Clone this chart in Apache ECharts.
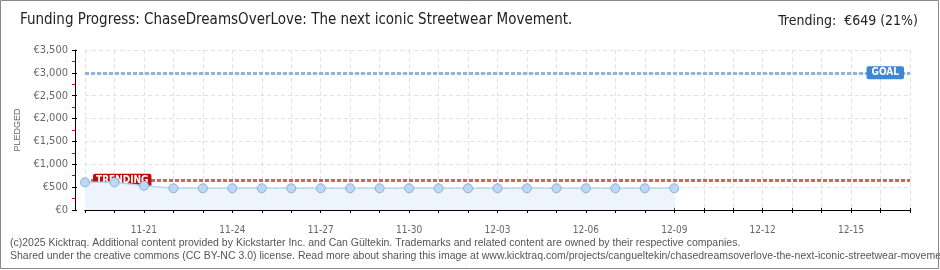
<!DOCTYPE html>
<html><head><meta charset="utf-8">
<script src="https://cdn.jsdelivr.net/npm/echarts@6/dist/echarts.min.js"></script>
<style>html,body{margin:0;padding:0;background:#fff}#c{width:940px;height:270px}</style>
</head><body><div id="c"></div>
<script>
var days = ['11-19','11-20','11-21','11-22','11-23','11-24','11-25','11-26','11-27','11-28','11-29','11-30','12-01','12-02','12-03','12-04','12-05','12-06','12-07','12-08','12-09','12-10','12-11','12-12','12-13','12-14','12-15','12-16','12-17'];
var pledged = [605,605,530,475,475,475,475,475,475,475,475,475,475,475,475,475,475,475,475,475,475];
var goal = 3000;
var trending = 649;
var yTicks = [0,500,1000,1500,2000,2500,3000,3500];
var titleText = 'Funding Progress: ChaseDreamsOverLove: The next iconic Streetwear Movement.';
var trendText = 'Trending:  \u20ac649 (21%)';
var foot1 = '(c)2025 Kicktraq. Additional content provided by Kickstarter Inc. and Can G\u00fcltekin. Trademarks and related content are owned by their respective companies.';
var foot2 = 'Shared under the creative commons (CC BY-NC 3.0) license. Read more about sharing this image at www.kicktraq.com/projects/cangueltekin/chasedreamsoverlove-the-next-iconic-streetwear-movement/';

var chart = echarts.init(document.getElementById('c'), null, {renderer:'canvas'});
var TF = '"DejaVu Sans Condensed","DejaVu Sans",sans-serif';
var FF = '"Liberation Sans",Arial,sans-serif';
function lbl(i){ return (i-2)%3===0; }
var catAxisBase = {
  type:'category', data:days, boundaryGap:false, offset:10,
  axisLine:{show:true,lineStyle:{color:'#000',width:1}}
};
chart.setOption({
  animation:false,
  grid:{left:85,right:30,top:50,bottom:60},
  graphic:[
    {type:'rect',shape:{x:0.5,y:0.5,width:938,height:268},style:{fill:'none',stroke:'#888',lineWidth:1},z:100},
    {type:'text',left:20,top:13,style:{text:titleText,font:'15px '+TF,fill:'#222'}},
    {type:'text',right:22,top:14,style:{text:trendText,font:'14px '+TF,fill:'#222'}},
    {type:'text',left:10,top:238,style:{text:foot1,font:'10.5px '+FF,fill:'#555'}},
    {type:'text',left:10,top:251,style:{text:foot2,font:'10.5px '+FF,fill:'#555'}}
  ],
  xAxis:[
    Object.assign({}, catAxisBase, {
      axisTick:{show:true,length:3,interval:0,lineStyle:{color:'#000'}},
      axisLabel:{interval:function(i){return lbl(i);},color:'#666',fontSize:10,fontFamily:TF,margin:5},
      splitLine:{show:true,interval:0,lineStyle:{color:'#e2e2e2',type:[4,3]}}
    }),
    Object.assign({}, catAxisBase, {
      position:'bottom',
      axisTick:{show:true,inside:true,length:2,interval:0,lineStyle:{color:'#000'}},
      axisLabel:{show:false}, splitLine:{show:false}
    })
  ],
  yAxis:[
    {
      type:'value', min:0, max:3500, interval:500, offset:10,
      name:'PLEDGED', nameLocation:'middle', nameGap:49,
      nameTextStyle:{color:'#666',fontSize:9,fontFamily:FF},
      axisLine:{show:true,lineStyle:{color:'#000'}},
      axisTick:{show:true,length:3,lineStyle:{color:'#000'}},
      minorTick:{show:true,splitNumber:2,length:3,lineStyle:{color:'#d00'}},
      axisLabel:{color:'#666',fontSize:11,fontFamily:TF,margin:7,
        formatter:function(v){return '\u20ac'+v.toLocaleString('en-US');}},
      splitLine:{show:true,lineStyle:{color:'#e2e2e2',type:[4,3]}}
    },
    {
      type:'value', min:0, max:3500, interval:500, offset:10, position:'left',
      axisLine:{show:false},
      axisTick:{show:true,inside:true,length:2,lineStyle:{color:'#000'}},
      axisLabel:{show:false}, splitLine:{show:false}
    }
  ],
  series:[{
    type:'line', data:pledged, symbol:'circle', symbolSize:9,
    itemStyle:{color:'#bdd8f6',borderColor:'#8fb0d8',borderWidth:1},
    lineStyle:{color:'#b9d6f3',width:1.5},
    areaStyle:{color:'#edf4fc',opacity:1},
    z:3,
    markLine:{
      silent:true, symbol:'none', z:2,
      data:[
        {yAxis:goal, lineStyle:{color:'#92b3de',width:3,type:[4,2]},
          label:{show:true,position:'insideEnd',formatter:'GOAL',color:'#fff',fontSize:10,fontWeight:'bold',fontFamily:TF,
            backgroundColor:'#3d87d6',padding:[2,5,1,5],borderRadius:2,distance:6}},
        {yAxis:trending, lineStyle:{color:'#d06262',width:3,type:[4,2]},
          label:{show:true,position:'insideStart',formatter:'TRENDING',color:'#fff',fontSize:10,fontWeight:'bold',fontFamily:TF,
            backgroundColor:'#bb0d0d',padding:[2,3,1,3],borderRadius:2,distance:8}}
      ]
    }
  }]
});
</script></body></html>
